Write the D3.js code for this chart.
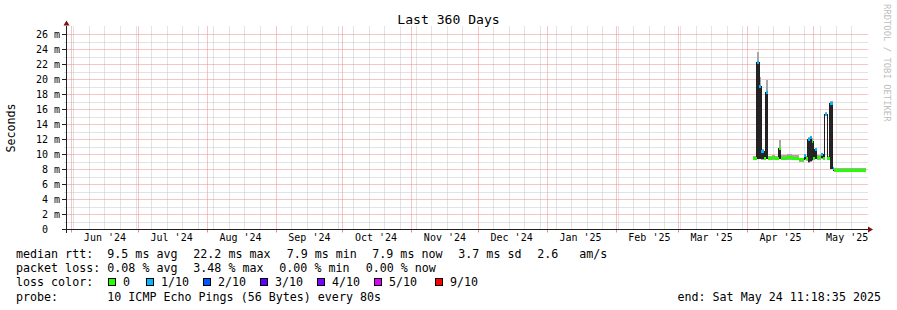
<!DOCTYPE html>
<html><head><meta charset="utf-8">
<script src="https://cdn.jsdelivr.net/npm/d3@7"></script>
<style>
html,body{margin:0;padding:0;background:#fff;}
svg{display:block;font-family:"DejaVu Sans Mono",monospace;}
text{white-space:pre;}
</style></head><body>
<svg id="chart" width="897" height="310"></svg>
<script>
// ---------- data ----------
const chartTitle = "Last 360 Days";
const yAxisTitle = "Seconds";
const endTime = "2025-05-24T11:18:35Z";
const spanDays = 360;
const yMax = 26.6667; // ms

const yTickValues = [0, 2, 4, 6, 8, 10, 12, 14, 16, 18, 20, 22, 24, 26];
const yTickLabels = ["0", "2 m", "4 m", "6 m", "8 m", "10 m", "12 m", "14 m", "16 m", "18 m", "20 m", "22 m", "24 m", "26 m"];

const monthStarts = ["2024-06-01","2024-07-01","2024-08-01","2024-09-01","2024-10-01","2024-11-01","2024-12-01","2025-01-01","2025-02-01","2025-03-01","2025-04-01","2025-05-01"];
const monthLabels = ["Jun '24","Jul '24","Aug '24","Sep '24","Oct '24","Nov '24","Dec '24","Jan '25","Feb '25","Mar '25","Apr '25","May '25"];

// smokeping series (ms); each value holds from its time until the next time
const times = [
  "2025-04-03T11:30Z","2025-04-05T06:40Z","2025-04-06T10:50Z","2025-04-07T08:25Z","2025-04-08T16:50Z",
  "2025-04-09T08:55Z","2025-04-10T08:40Z","2025-04-12T00:00Z","2025-04-13T12:00Z","2025-04-15T07:25Z",
  "2025-04-16T05:00Z","2025-04-19T00:00Z","2025-04-21T00:00Z","2025-04-24T07:30Z","2025-04-26T19:00Z",
  "2025-04-27T09:00Z","2025-04-28T05:30Z","2025-04-29T10:00Z","2025-04-30T00:00Z","2025-04-30T18:00Z",
  "2025-05-01T12:15Z","2025-05-02T09:50Z","2025-05-04T08:20Z","2025-05-05T06:00Z","2025-05-06T00:15Z",
  "2025-05-07T03:20Z","2025-05-08T06:15Z","2025-05-09T11:30Z","2025-05-09T22:20Z","2025-05-24T11:18:35Z"
];
const median  = [9.5,22.3,19.1,10.4,9.5, 18.3,9.5,9.6,9.5,10.8, 9.5,9.6,9.5,9.4,9.9, 9.5,12.0,12.3,11.8,9.5, 10.7,9.6,10.0,9.5,15.4, 9.5,16.8,8.1,7.93,7.93];
const lossIdx = [0,1,1,1,0, 1,0,0,0,0, 0,0,0,0,1, 0,1,1,0,0, 1,0,1,0,1, 0,1,1,0,0];
const smokeLo = [9.3,9.4,9.4,9.3,9.3, 9.4,9.3,9.3,9.3,9.4, 9.3,9.3,9.3,9.0,9.3, 9.2,8.9,9.0,9.2,9.3, 9.4,9.3,9.4,9.3,15.1, 9.3,8.1,7.9,7.85,7.85];
const smokeHi = [9.8,23.7,20.4,10.8,9.9, 19.9,9.8,10.0,9.8,11.9, 10.0,10.1,9.9,9.6,10.1, 9.8,12.3,12.5,12.2,9.9, 10.9,9.9,10.2,9.8,15.7, 9.8,17.2,8.3,8.25,8.25];
const coreLo  = [9.5,9.4,9.4,9.4,9.5, 9.4,9.5,9.6,9.5,9.4, 9.5,9.6,9.5,9.4,9.4, 9.5,9.0,9.2,9.3,9.5, 9.4,9.6,9.5,9.5,15.4, 9.5,8.1,8.1,7.93,7.93];
const coreHi  = [9.5,22.3,19.1,10.4,9.5, 18.3,9.5,9.6,9.5,10.8, 9.5,9.6,9.5,9.4,9.9, 9.5,12.0,12.3,11.8,9.5, 10.7,9.6,10.0,9.5,15.4, 9.5,16.8,8.1,7.93,7.93];

const lossLabels = ["0","1/10","2/10","3/10","4/10","5/10","9/10"];
const lossColors = ["#26ff00","#00b8ff","#0059ff","#5e00ff","#7e00ff","#dd00ff","#ff0000"];

const rttLabel = "median rtt:";
const rttStats = ["9.5 ms avg","22.2 ms max","7.9 ms min","7.9 ms now","3.7 ms sd","2.6","am/s"];
const lossLabel = "packet loss:";
const lossStats = ["0.08 % avg","3.48 % max","0.00 % min","0.00 % now"];
const lossColorLabel = "loss color:";
const probeLabel = "probe:";
const probeText = "10 ICMP Echo Pings (56 Bytes) every 80s";
const endText = "end: Sat May 24 11:18:35 2025";
const watermark = "RRDTOOL / TOBI OETIKER";

// ---------- layout ----------
const svg = d3.select("#chart");
const X0 = 66, XW = 800, YB = 229.5, YH = 200;
const end = new Date(endTime);
const start = new Date(end.getTime() - spanDays * 86400000);
const x = d3.scaleUtc().domain([start, end]).range([X0, X0 + XW]);
const y = d3.scaleLinear().domain([0, yMax]).range([YB, YB - YH]);
const px = tt => Math.floor(x(tt)) + 0.5;
const py = v => Math.floor(y(v) + 1e-6) + 0.5;

const GRID = "#c6c6c6", MGRID = "#ec8a8a", AXIS = "#202020", ARROW = "#801010";
const gridG = svg.append("g").attr("class", "grid");

function hLine(parent, yv, x1, x2, color, dashed) {
  const l = parent.append("line").attr("x1", x1).attr("x2", x2)
    .attr("y1", py(yv)).attr("y2", py(yv)).attr("stroke", color).attr("stroke-width", 1);
  if (dashed) l.attr("stroke-dasharray", "1 1");
  return l;
}
function vLine(parent, tv, y1, y2, color, dashed) {
  const l = parent.append("line").attr("x1", px(tv)).attr("x2", px(tv))
    .attr("y1", y1).attr("y2", y2).attr("stroke", color).attr("stroke-width", 1);
  if (dashed) l.attr("stroke-dasharray", "1 1");
  return l;
}

const months = monthStarts.map(s => new Date(s + "T00:00:00Z"));
const monthCols = new Set(months.map(m => px(m)));
// minor grid
d3.range(1, 27, 2).forEach(v => hLine(gridG, v, X0 - 1.5, X0 + XW + 1.5, GRID, true));
const weeks = d3.utcSunday.range(start, end).filter(w => !monthCols.has(px(w)));
weeks.forEach(w => vLine(gridG, w, YB - YH - 3, YB + 1, GRID, true));
// major grid
yTickValues.filter(v => v > 0).forEach(v => hLine(gridG, v, X0 + 0.5, X0 + XW + 1.5, MGRID, true));
months.forEach(m => vLine(gridG, m, YB - YH - 3, YB, MGRID, true));
months.forEach(m => vLine(gridG, m, YB, YB + 3, MGRID, false));
yTickValues.forEach(v => hLine(gridG, v, X0 - 4, X0, AXIS, false));

// ---------- data ----------
const recs = times.map((tm, i) => ({
  t: new Date(tm), med: median[i], loss: lossIdx[i],
  lo: smokeLo[i], hi: smokeHi[i], clo: coreLo[i], chi: coreHi[i]
}));
const dg = svg.append("g").attr("shape-rendering", "crispEdges");
dg.append("path").datum(recs)
  .attr("d", d3.area().curve(d3.curveStepAfter).x(d => x(d.t)).y0(d => y(d.lo)).y1(d => y(d.hi)))
  .attr("fill", "#a8a8a8");
dg.append("path").datum(recs)
  .attr("d", d3.area().curve(d3.curveStepAfter).x(d => x(d.t)).y0(d => y(d.clo)).y1(d => y(d.chi)))
  .attr("fill", "#242424");
dg.append("path").datum(recs)
  .attr("d", d3.line().curve(d3.curveStepAfter).x(d => x(d.t)).y(d => y(d.med)))
  .attr("fill", "none").attr("stroke", "#202020").attr("stroke-width", 1);
const segs = recs.slice(0, -1).map((d, i) => ({ ...d, t2: recs[i + 1].t }));
dg.selectAll("rect.band").data(segs).join("rect").attr("class", "band")
  .attr("x", d => x(d.t)).attr("width", d => Math.max(1, x(d.t2) - x(d.t)))
  .attr("y", d => y(d.med) - 1.5).attr("height", 3)
  .attr("fill", d => lossColors[d.loss]);

// ---------- axes ----------
const ax = svg.append("g").attr("shape-rendering", "crispEdges");
ax.append("line").attr("x1", X0 - 4).attr("x2", X0 + XW + 3).attr("y1", YB).attr("y2", YB).attr("stroke", AXIS);
ax.append("line").attr("x1", X0 + 0.5).attr("x2", X0 + 0.5).attr("y1", YB + 3).attr("y2", YB - YH - 4).attr("stroke", AXIS);
svg.append("path").attr("d", `M${X0 + XW + 2},${YB - 3}L${X0 + XW + 7},${YB}L${X0 + XW + 2},${YB + 3}Z`).attr("fill", ARROW);
svg.append("path").attr("d", `M${X0 - 2.5},${YB - YH - 4}L${X0 + 0.5},${YB - YH - 9}L${X0 + 3.5},${YB - YH - 4}Z`).attr("fill", ARROW);

// y tick labels
yTickLabels.forEach((lab, i) => {
  const parts = lab.split(" ");
  const yy = py(yTickValues[i]) + 3.5;
  svg.append("text").attr("x", 48).attr("y", yy).attr("text-anchor", "end")
    .attr("font-size", "10px").text(parts[0]);
  if (parts[1]) svg.append("text").attr("x", 54).attr("y", yy)
    .attr("font-size", "10px").text(parts[1]);
});
// x labels (centered half a month after the month start)
svg.selectAll("text.xl").data(months).join("text").attr("class", "xl")
  .attr("x", d => x(new Date(d.getTime() + 15 * 86400000)))
  .attr("y", 241).attr("text-anchor", "middle").attr("font-size", "10px")
  .text((d, i) => monthLabels[i]);

// title
svg.append("text").attr("x", 448.5).attr("y", 24).attr("text-anchor", "middle")
  .attr("font-size", "13.1px").text(chartTitle);
// y axis title
svg.append("text").attr("transform", "translate(15,128) rotate(-90)")
  .attr("text-anchor", "middle").attr("font-size", "11.67px").text(yAxisTitle);
// watermark
svg.append("text").attr("transform", "translate(884,4) rotate(90)")
  .attr("font-size", "8.9px").attr("fill", "#bdbdbd").text(watermark);

// ---------- legend ----------
const FS = "11.67px";
const L = [258, 272.2, 286.4, 300.6];
function txt(xp, yp, s, anchor) {
  svg.append("text").attr("x", xp).attr("y", yp).attr("font-size", FS)
    .attr("text-anchor", anchor || "start").text(s);
}
txt(16, L[0], rttLabel);
const rttX = [107.3, 193.3, 286.7, 372.3, 458.3, 537.3, 579.3];
rttStats.forEach((s, i) => txt(rttX[i], L[0], s));
txt(16, L[1], lossLabel);
const lossX = [107.3, 193.3, 279.3, 365.7];
lossStats.forEach((s, i) => txt(lossX[i], L[1], s));
txt(16, L[2], lossColorLabel);
const boxX = [108, 146, 203, 260, 317, 374, 435];
lossLabels.forEach((s, i) => {
  svg.append("rect").attr("x", boxX[i] + 0.5).attr("y", 278.5).attr("width", 7).attr("height", 7)
    .attr("fill", lossColors[i]).attr("stroke", "#000").attr("shape-rendering", "crispEdges");
  txt(boxX[i] + 15, L[2], s);
});
txt(16, L[3], probeLabel);
txt(107.3, L[3], probeText);
txt(881, L[3], endText, "end");
</script>
</body></html>
